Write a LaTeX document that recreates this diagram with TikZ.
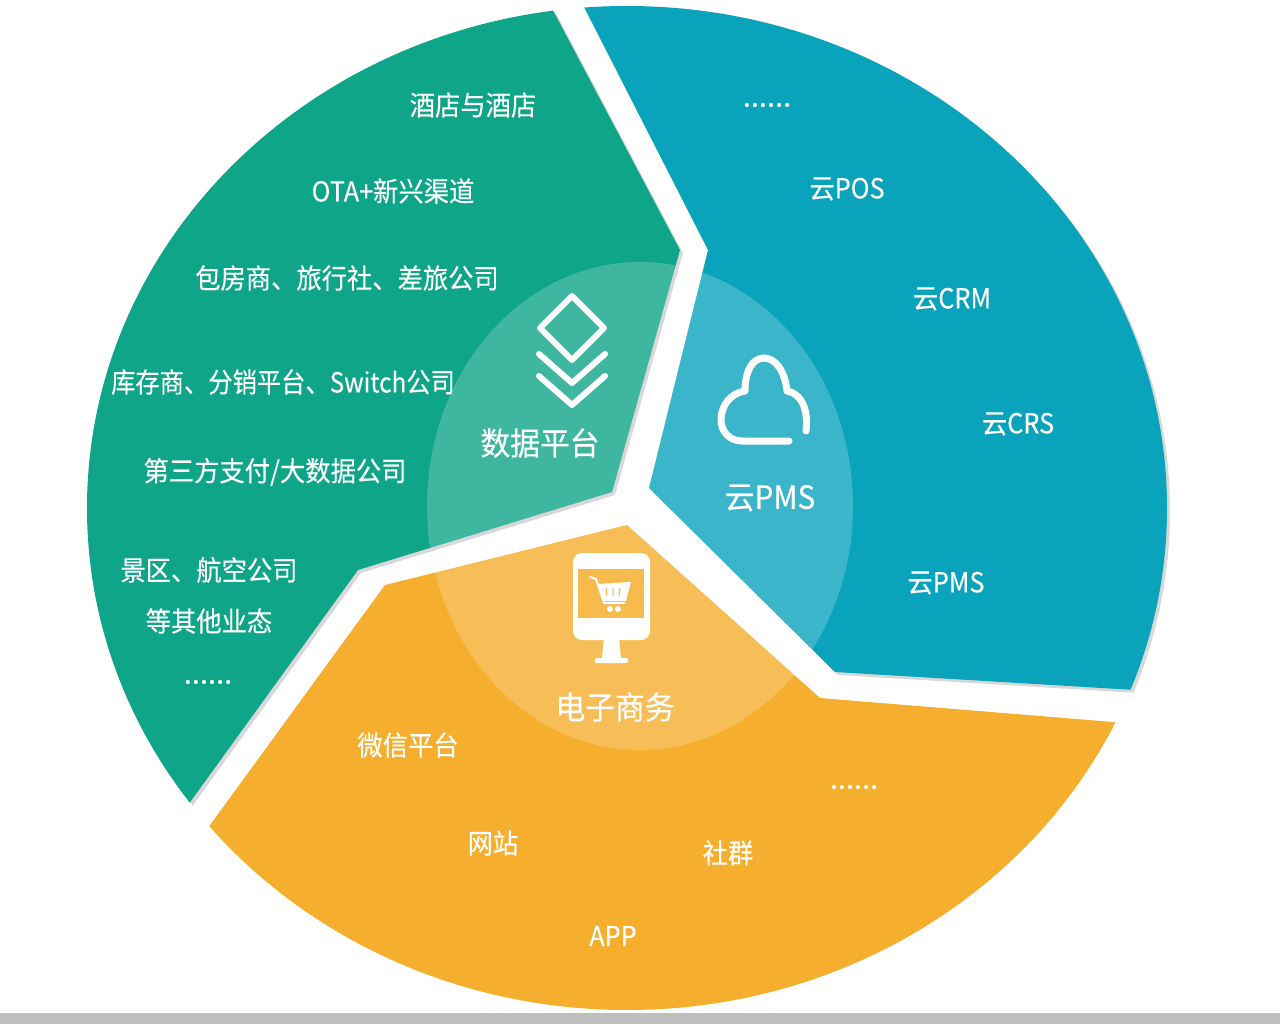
\documentclass[tikz,border=0pt]{standalone}
\usepackage{fontspec}
\setmainfont[FakeBold=0.25]{Noto Sans CJK SC}
\usepackage{xcolor}
\usepackage{tikz}
\usetikzlibrary{positioning,calc}
\definecolor{sectorgreen}{HTML}{0FA589}
\definecolor{sectorblue}{HTML}{0AA3BC}
\definecolor{sectororange}{HTML}{F5AE2D}
\definecolor{bottomgray}{HTML}{BEBEBE}
\tikzstyle{itemtext}=[text=white, font=\fontsize{27.5}{31}\selectfont, inner sep=0pt, align=center, xscale=.92, transform shape]
\tikzstyle{hubtext}=[text=white, font=\fontsize{32}{36}\selectfont, inner sep=0pt, xscale=.93, transform shape]
\tikzstyle{dotstext}=[text=white, font=\fontsize{29}{33}\selectfont, inner sep=0pt]
\tikzstyle{iconline}=[draw=white, line width=6pt, line cap=round, line join=round]
\tikzstyle{hubdisc}=[fill=white, fill opacity=0.2]
\newcommand{\outerdisc}{(627,508) ellipse [x radius=540, y radius=502]}
\newcommand{\hubcircle}{(640,506) ellipse [x radius=213, y radius=244]}
\newcommand{\greensector}{(530,-33) -- (680,250) -- (612,492) -- (358,570) -- (120,899) -- (-20,899) -- (-20,-33) -- cycle}
\newcommand{\bluesector}{(560,-40) -- (708,250) -- (649,488) -- (835,672) -- (1135,690) -- (1300,700) -- (1300,-40) -- cycle}
\newcommand{\orangesector}{(627,525) -- (820,698) -- (1113,722) -- (1300,737) -- (1300,1050) -- (100,1050) -- (100,976) -- (385,585) -- cycle}
\begin{document}
\begin{tikzpicture}[x=1pt, y=-1pt]
        \useasboundingbox (0,0) rectangle (1280,1024);
        \fill[bottomgray] (0,1013) rectangle (1280,1024);

        % soft edges
        \begin{scope}[shift={(3,3)}]
            \clip \outerdisc;
            \fill[black!30, opacity=0.5] \greensector;
            \fill[black!30, opacity=0.5] \bluesector;
        \end{scope}

        % sectors
        \begin{scope}
            \clip \outerdisc;
            \fill[sectorgreen] \greensector;
            \fill[sectorblue] \bluesector;
            \fill[sectororange] \orangesector;
        \end{scope}

        % hub
        \begin{scope}
            \clip \greensector;
            \fill[hubdisc] \hubcircle;
        \end{scope}
        \begin{scope}
            \clip \bluesector;
            \fill[hubdisc] \hubcircle;
        \end{scope}
        \begin{scope}
            \clip \orangesector;
            \fill[hubdisc] \hubcircle;
        \end{scope}

        % layers icon
        \draw[iconline] (572,296) -- (604,328) -- (572,360) -- (540,328) -- cycle;
        \draw[iconline] (539,354) -- (572,383) -- (605,354);
        \draw[iconline] (539,376) -- (572,405) -- (605,376);

        % cloud icon
        \draw[iconline, line width=7pt] (789,441) -- (742,441)
            .. controls (729,441) and (721,431) .. (721,420)
            .. controls (721,405) and (731,393) .. (745,391)
            .. controls (745,370) and (753,358) .. (764,358)
            .. controls (776,358) and (785,372) .. (787,391)
            .. controls (799,393) and (809,406) .. (806,431);

        % shop icon
        \fill[white, rounded corners=9pt] (573,553) rectangle (650,640);
        \fill[sectororange!85!white] (578,569) rectangle (644,618);
        \fill[white] (604,638) -- (619,638) -- (621,658) -- (627,658) to[bend left=60] (627,663) -- (596,663) to[bend left=60] (596,658) -- (602,658) -- cycle;
        \draw[white, line width=2pt, line cap=round] (590,577) -- (596,579) -- (604,603) -- (624,603);
        \fill[white] (597,584) -- (631,582) -- (626,601) -- (603,601) -- cycle;
        \draw[sectororange, line width=1pt] (606,588) -- (607,596) (613,588) -- (613,596) (620,588) -- (619,596);
        \fill[white] (610,609) circle (3) (618,609) circle (3);

        % hub labels
        \node[hubtext] (datahub) at (540,443) {数据平台};
        \node[hubtext] (cloudhub) at (770,498) {云PMS};
        \node[hubtext] (shophub) at (615,707) {电子商务};

        % green items
        \node[itemtext] (hotel) at (473,105) {酒店与酒店};
        \node[itemtext] (ota) at (393,191) {OTA+新兴渠道};
        \node[itemtext] (agency) at (347,278) {包房商、旅行社、差旅公司};
        \node[itemtext, xscale=.96] (stock) at (283,382) {库存商、分销平台、Switch公司};
        \node[itemtext] (payment) at (275,472) {第三方支付/大数据公司};
        \node[itemtext] (scenic) at (209,570) {景区、航空公司};
        \node[itemtext] (others) at (209,621) {等其他业态};
        \node[dotstext] (greendots) at (208,682) {......};

        % blue items
        \node[dotstext] (bluedots) at (767,105) {......};
        \node[itemtext] (cloudpos) at (847,189) {云POS};
        \node[itemtext] (cloudcrm) at (952,299) {云CRM};
        \node[itemtext] (cloudcrs) at (1018,424) {云CRS};
        \node[itemtext] (cloudpms) at (946,583) {云PMS};

        % orange items
        \node[itemtext] (wechat) at (408,745) {微信平台};
        \node[itemtext] (website) at (493,843) {网站};
        \node[itemtext] (community) at (728,853) {社群};
        \node[itemtext] (app) at (613,936) {APP};
        \node[dotstext] (orangedots) at (854,787) {......};
    \end{tikzpicture}
\end{document}
